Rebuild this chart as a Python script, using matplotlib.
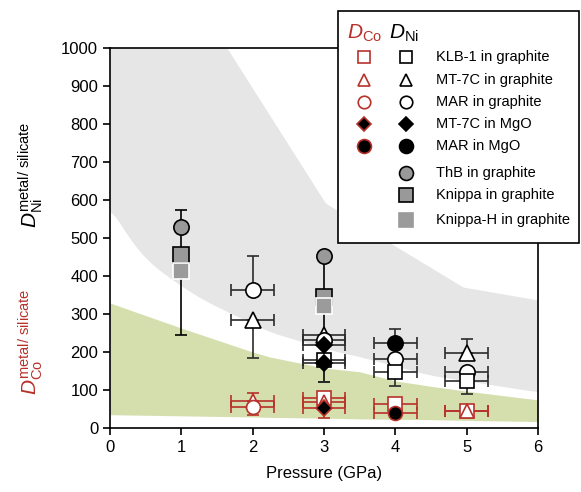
import numpy as np
import matplotlib
matplotlib.use('Agg')
import matplotlib.pyplot as plt
from matplotlib.patches import Rectangle

plt.rcParams['font.family'] = ['Liberation Sans', 'DejaVu Sans']
plt.rcParams['mathtext.fontset'] = 'custom'
plt.rcParams['mathtext.rm'] = 'Liberation Sans'
plt.rcParams['mathtext.it'] = 'Liberation Sans:italic'

RED = '#b8312b'
DARK = '#2b2b2b'

# shaded bands
gray_top_x = [0, 1.64, 3.02, 3.97, 4.95, 6.0]
gray_top_y = [1000, 1000, 592, 482, 371, 337]
gray_bot_x = [0, 0.28, 0.56, 0.94, 1.31, 1.68, 2.24, 3.09, 3.5, 4.49, 6.0]
gray_bot_y = [582, 495, 434, 381, 337, 303, 253, 205, 188, 139, 95]
green_x = [0, 1, 2, 2.24, 3, 3.5, 4, 4.49, 5, 6]
green_top = [329, 263, 200, 187, 158, 148, 124, 110, 97, 74]
green_bot = [35, 32, 29, 28, 26, 24, 23, 22, 20, 17]

# D_Ni data: x, y, lower err, upper err
klb_x, klb_y, klb_lo, klb_hi = [3, 4, 5], [178, 148, 125], [0, 37, 35], [0, 0, 0]
mt7_x, mt7_y, mt7_lo, mt7_hi = [2, 3, 5], [285, 245, 197], [100, 0, 0], [0, 0, 37]
mar_x, mar_y, mar_lo, mar_hi = [2, 3, 4, 5], [363, 232, 182, 148], [0, 0, 0, 0], [90, 0, 0, 0]
mt7m_x, mt7m_y, mt7m_lo, mt7m_hi = [3, 3], [218, 170], [0, 50], [0, 0]
marm_x, marm_y, marm_lo, marm_hi = [4], [223], [0], [38]
thb_x, thb_y, thb_lo, thb_hi = [1, 3], [530, 452], [285, 331], [45, 0]
kni_x, kni_y = [1, 3], [455, 345]
knih_x, knih_y = [1, 3], [412, 320]

# D_Co data
co_klb_x, co_klb_y = [3, 4, 5], [80, 62, 45]
co_mt7_x, co_mt7_y, co_mt7_hi = [2, 3, 5], [72, 68, 45], [20, 0, 0]
co_mar_x, co_mar_y, co_mar_lo = [2], [55], [22]
co_mt7m_x, co_mt7m_y, co_mt7m_lo = [3], [53], [27]
co_marm_x, co_marm_y, co_marm_lo = [4], [39], [8]
xerr_p = 0.3

fig = plt.figure(figsize=(5.81, 4.92), dpi=100)
ax = fig.add_axes([110/581, 64/492, 428/581, 380/492])

xs = np.linspace(0, 6, 400)
gb = np.interp(xs, gray_bot_x, gray_bot_y)
# smooth out the kinks of the read-off points a little
gb = np.convolve(np.pad(gb, 10, mode='edge'), np.ones(21) / 21, mode='valid')
gt = np.interp(xs, gray_top_x, gray_top_y)
ax.fill_between(xs, gb, gt, color='#e6e6e6', lw=0, zorder=0)
ax.fill_between(xs, np.interp(xs, green_x, green_bot), np.interp(xs, green_x, green_top),
                color='#d5dfae', lw=0, zorder=0.5)

ekw = dict(capsize=4, elinewidth=1.2, capthick=1.2, ls='none', zorder=2)

# error bars first
ax.errorbar(thb_x, thb_y, yerr=[thb_lo, thb_hi], ecolor='black', fmt='none', **ekw)
ax.errorbar(klb_x, klb_y, xerr=xerr_p, yerr=[klb_lo, klb_hi], ecolor=DARK, fmt='none', **ekw)
ax.errorbar(mt7_x, mt7_y, xerr=xerr_p, yerr=[mt7_lo, mt7_hi], ecolor=DARK, fmt='none', **ekw)
ax.errorbar(mar_x, mar_y, xerr=xerr_p, yerr=[mar_lo, mar_hi], ecolor=DARK, fmt='none', **ekw)
ax.errorbar(mt7m_x, mt7m_y, xerr=xerr_p, yerr=[mt7m_lo, mt7m_hi], ecolor=DARK, fmt='none', **ekw)
ax.errorbar(marm_x, marm_y, xerr=xerr_p, yerr=[marm_lo, marm_hi], ecolor=DARK, fmt='none', **ekw)
ax.errorbar(co_klb_x, co_klb_y, xerr=xerr_p, ecolor=RED, fmt='none', **ekw)
ax.errorbar(co_mt7_x, co_mt7_y, xerr=xerr_p, yerr=[[0]*3, co_mt7_hi], ecolor=RED, fmt='none', **ekw)
ax.errorbar(co_mar_x, co_mar_y, xerr=xerr_p, yerr=[co_mar_lo, [0]], ecolor=RED, fmt='none', **ekw)
ax.errorbar(co_mt7m_x, co_mt7m_y, xerr=xerr_p, yerr=[co_mt7m_lo, [0]], ecolor=RED, fmt='none', **ekw)
ax.errorbar(co_marm_x, co_marm_y, xerr=xerr_p, yerr=[co_marm_lo, [0]], ecolor=RED, fmt='none', **ekw)

# markers
mk = dict(ls='none', zorder=3, mew=1.2)
ax.plot(thb_x, thb_y, 'o', ms=11, mfc='#999999', mec='black', **mk)
ax.plot(kni_x, kni_y, 's', ms=11, mfc='#999999', mec='black', **mk)
ax.plot(knih_x, knih_y, 's', ms=11, mfc='#9b9b9b', mec='white', **mk)
ax.plot(mt7_x, mt7_y, '^', ms=11, mfc='white', mec='black', **mk)
ax.plot(mar_x, mar_y, 'o', ms=11, mfc='white', mec='black', **mk)
ax.plot(klb_x, klb_y, 's', ms=10, mfc='white', mec='black', **mk)
ax.plot(mt7m_x, mt7m_y, 'D', ms=8, mfc='black', mec='black', **mk)
ax.plot(marm_x, marm_y, 'o', ms=11, mfc='black', mec='black', **mk)

ax.plot(co_klb_x, co_klb_y, 's', ms=10, mfc='white', mec=RED, **mk)
ax.plot(co_mt7_x, co_mt7_y, '^', ms=10, mfc='white', mec=RED, **mk)
ax.plot(co_mar_x, co_mar_y, 'o', ms=10, mfc='white', mec=RED, **mk)
ax.plot(co_mt7m_x, co_mt7m_y, 'D', ms=8, mfc='black', mec=RED, **mk)
ax.plot(co_marm_x, co_marm_y, 'o', ms=10, mfc='black', mec=RED, **mk)

ax.set_xlim(0, 6)
ax.set_ylim(0, 1000)
ax.set_xticks(range(0, 7))
ax.set_yticks(range(0, 1001, 100))
ax.tick_params(direction='out', length=5, width=1.2, labelsize=12, top=False, right=False)
for s in ax.spines.values():
    s.set_linewidth(1.2)
ax.set_xlabel('Pressure (GPa)', fontsize=12, labelpad=8)

fig.text(31/581, 1 - 175/492, r'$D_{\rm Ni}^{\rm metal/\ silicate}$', rotation=90,
         ha='center', va='center', fontsize=15, color='black')
fig.text(31/581, 1 - 342/492, r'$D_{\rm Co}^{\rm metal/\ silicate}$', rotation=90,
         ha='center', va='center', fontsize=15, color=RED)

# custom two-column legend drawn on an overlay in pixel coords
lg = fig.add_axes([0, 0, 1, 1], zorder=10)
lg.set_xlim(0, 581)
lg.set_ylim(492, 0)
lg.axis('off')
lg.add_patch(Rectangle((338, 11), 241, 232, fc='white', ec='black', lw=1.2))
lg.text(347, 33, r'$D_{\rm Co}$', color=RED, fontsize=15, va='center')
lg.text(389, 33, r'$D_{\rm Ni}$', color='black', fontsize=15, va='center')

leg_labels = ['KLB-1 in graphite', 'MT-7C in graphite', 'MAR in graphite', 'MT-7C in MgO',
              'MAR in MgO', 'ThB in graphite', 'Knippa in graphite', 'Knippa-H in graphite']
leg_rows = [57, 80, 102, 124, 146, 173, 195, 220]
leg_ni = [('s', 'white', 'black', 9), ('^', 'white', 'black', 9), ('o', 'white', 'black', 9),
          ('D', 'black', 'black', 7), ('o', 'black', 'black', 10), ('o', '#999999', 'black', 10),
          ('s', '#999999', 'black', 10), ('s', '#9b9b9b', '#9b9b9b', 10)]
leg_co = [('s', 'white', RED, 9), ('^', 'white', RED, 9), ('o', 'white', RED, 9),
          ('D', 'black', RED, 7), ('o', 'black', RED, 10)]
for i, lab in enumerate(leg_labels):
    yy = leg_rows[i]
    m, fc, ec, ms = leg_ni[i]
    lg.plot([406], [yy], m, ms=ms, mfc=fc, mec=ec, mew=1.2)
    if i < len(leg_co):
        m, fc, ec, ms = leg_co[i]
        lg.plot([364], [yy], m, ms=ms, mfc=fc, mec=ec, mew=1.2)
    lg.text(436, yy, lab, fontsize=10.5, va='center')

fig.savefig('out.png', dpi=100)
